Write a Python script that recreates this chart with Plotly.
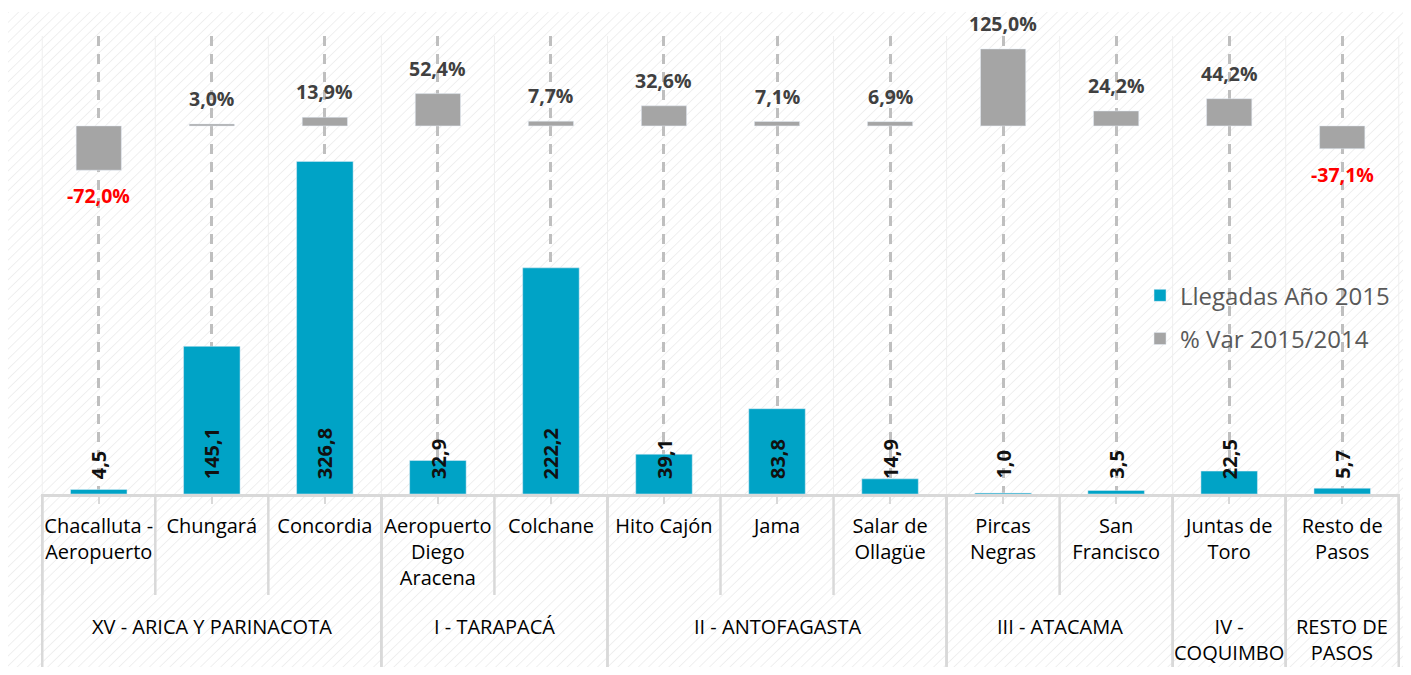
import base64
import plotly.graph_objects as go

# ---------------- data ----------------
categories = ["Chacalluta - Aeropuerto", "Chungará", "Concordia", "Aeropuerto Diego Aracena",
              "Colchane", "Hito Cajón", "Jama", "Salar de Ollagüe", "Pircas Negras",
              "San Francisco", "Juntas de Toro", "Resto de Pasos"]
tick_labels = ["Chacalluta -<br>Aeropuerto", "Chungará", "Concordia", "Aeropuerto<br>Diego<br>Aracena",
               "Colchane", "Hito Cajón", "Jama", "Salar de<br>Ollagüe", "Pircas<br>Negras",
               "San<br>Francisco", "Juntas de<br>Toro", "Resto de<br>Pasos"]
llegadas_2015 = [4.5, 145.1, 326.8, 32.9, 222.2, 39.1, 83.8, 14.9, 1.0, 3.5, 22.5, 5.7]
var_pct = [-72.0, 3.0, 13.9, 52.4, 7.7, 32.6, 7.1, 6.9, 125.0, 24.2, 44.2, -37.1]
groups = ["XV - ARICA Y PARINACOTA", "I - TARAPACÁ", "II - ANTOFAGASTA", "III - ATACAMA",
          "IV -<br>COQUIMBO", "RESTO DE<br>PASOS"]
group_sizes = [3, 2, 3, 2, 1, 1]

def fmt(v, dec=1):
    return f"{v:.{dec}f}".replace(".", ",")

FONT = "Open Sans"
BLUE = "#00A3C6"
GRAY = "#A5A5A5"
SEP = "#D9D9D9"

fig = go.Figure()
fig.add_trace(go.Bar(x=categories, y=llegadas_2015, name="Llegadas Año 2015", marker_color=BLUE,
                     width=0.5, yaxis="y", legendgroup="a"))
fig.add_trace(go.Bar(x=categories, y=var_pct, name="% Var 2015/2014", marker_color=GRAY,
                     width=0.4, yaxis="y2", legendgroup="b"))

annotations = []
# value labels of blue bars (vertical, at base)
for c, v in zip(categories, llegadas_2015):
    annotations.append(dict(x=c, y=0, xref="x", yref="y", text=f"<b>{fmt(v)}</b>", textangle=-90,
                            showarrow=False, yanchor="bottom", xanchor="center", yshift=13,
                            font=dict(family=FONT, size=20, color="#111111")))
# % labels
for c, v in zip(categories, var_pct):
    pos = v >= 0
    annotations.append(dict(x=c, y=v, xref="x", yref="y2", text=f"<b>{fmt(v)}%</b>",
                            showarrow=False, yanchor="bottom" if pos else "top",
                            yshift=10 if pos else -10,
                            font=dict(family=FONT, size=19.5, color="#404040" if pos else "#FF0000")))

shapes = []
# faint boundary lines inside plot area, and separators below axis
for i in range(len(categories) + 1):
    shapes.append(dict(type="line", xref="x", yref="paper", x0=i - 0.5, x1=i - 0.5, y0=0, y1=1,
                       line=dict(color="#EFEFEF", width=1), layer="below"))
    shapes.append(dict(type="line", xref="x", yref="paper", x0=i - 0.5, x1=i - 0.5, y0=0, y1=-0.2205,
                       line=dict(color=SEP, width=2.5)))
start = 0
for g, n in zip(groups, group_sizes):
    center = start + (n - 1) / 2
    annotations.append(dict(x=center, y=-0.2555, xref="x", yref="paper", text=g, showarrow=False,
                            yanchor="top", xanchor="center",
                            font=dict(family=FONT, size=20, color="#000000")))
    for b in (start - 0.5, start + n - 0.5):
        shapes.append(dict(type="line", xref="x", yref="paper", x0=b, x1=b, y0=0, y1=-0.3777,
                           line=dict(color=SEP, width=2.5)))
    start += n

# hatched background image
W, H = 1397, 658
svg = (f"<svg xmlns='http://www.w3.org/2000/svg' width='{W}' height='{H}' viewBox='0 0 {W} {H}' "
       "preserveAspectRatio='none'><defs><pattern id='p' width='7' height='7' patternUnits='userSpaceOnUse' "
       "patternTransform='rotate(45)'><line x1='0' y1='0' x2='0' y2='7' stroke='#EDEDED' stroke-width='1.6'/>"
       "</pattern></defs><rect width='100%' height='100%' fill='#FFFFFF'/>"
       "<rect width='100%' height='100%' fill='url(#p)'/></svg>")
src = "data:image/svg+xml;base64," + base64.b64encode(svg.encode()).decode()

fig.update_layout(
    width=1395, height=659,
    margin=dict(l=33, r=3, t=28, b=173),
    paper_bgcolor="white", plot_bgcolor="rgba(0,0,0,0)",
    showlegend=True,
    legend=dict(x=0.8087, y=0.482, xanchor="left", yanchor="top", bgcolor="rgba(0,0,0,0)",
                font=dict(family=FONT, size=24, color="#595959"), tracegroupgap=9,
                traceorder="grouped"),
    xaxis=dict(type="category", tickmode="array", tickvals=categories, ticktext=tick_labels,
               tickfont=dict(family=FONT, size=20, color="#000000"),
               showline=True, linecolor=SEP, linewidth=2.5,
               ticks="outside", ticklen=7, tickcolor=SEP, tickwidth=2, ticklabelstandoff=5,
               showgrid=True, gridcolor="#BFBFBF", gridwidth=2.5, griddash="10px,8px",
               tickangle=0),
    yaxis=dict(range=[0, 450], visible=False, showgrid=False, zeroline=False),
    yaxis2=dict(range=[-598, 146], overlaying="y", side="right", visible=False, showgrid=False,
                zeroline=False),
    annotations=annotations,
    shapes=shapes,
    images=[dict(source=src, xref="paper", yref="paper", x=-0.0243, y=1.0524,
                 sizex=1.0574, sizey=1.4367, sizing="stretch", layer="below",
                 xanchor="left", yanchor="top")],
    font=dict(family=FONT),
)

fig.write_html("out.html")
